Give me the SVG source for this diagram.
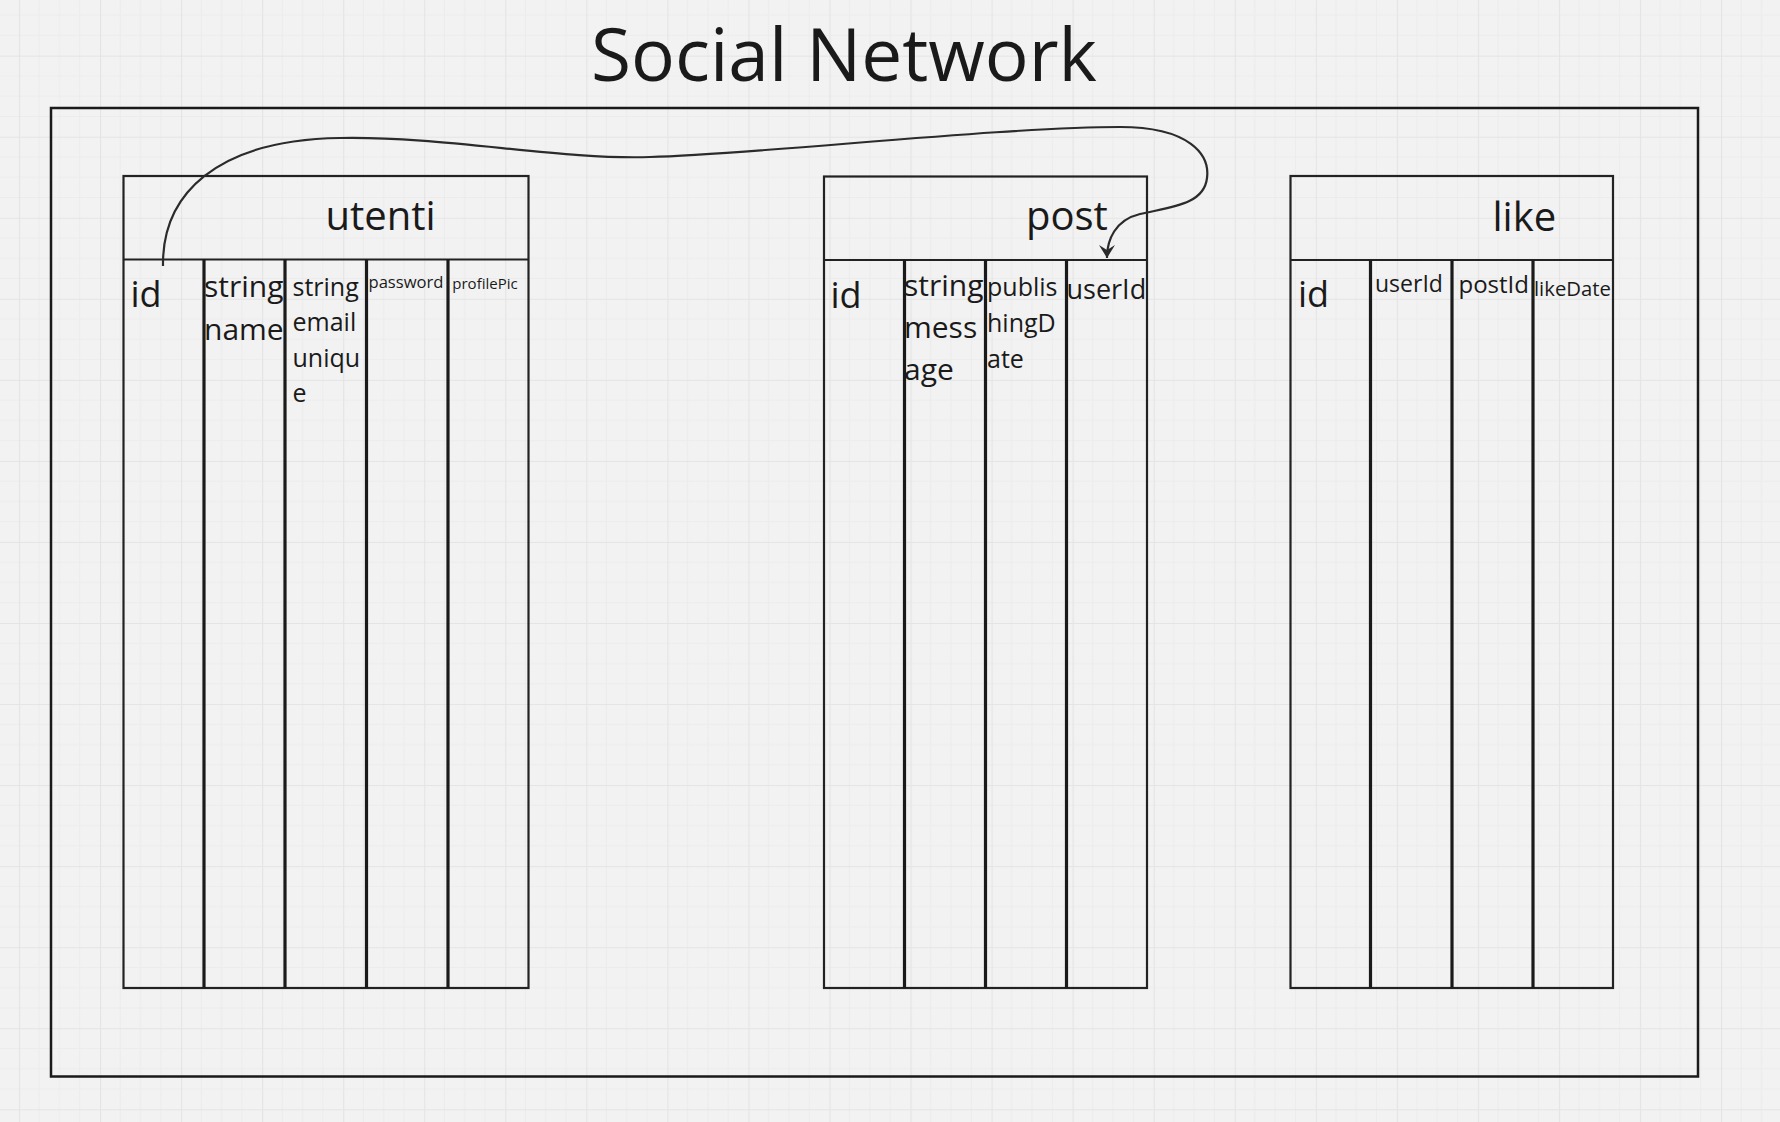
<svg xmlns="http://www.w3.org/2000/svg" width="1780" height="1122" viewBox="0 0 1780 1122">
  <defs>
    <pattern id="grid" patternUnits="userSpaceOnUse" x="18.95" y="55.65" width="81.05" height="81.05">
      <rect width="81.05" height="81.05" fill="#f2f2f2"/>
      <path d="M20.26 0V81.05M40.52 0V81.05M60.79 0V81.05M0 20.26H81.05M0 40.52H81.05M0 60.79H81.05" stroke="#ececec" stroke-width="1" fill="none"/>
      <path d="M0.5 0V81.05M0 0.5H81.05" stroke="#e4e4e4" stroke-width="1.2" fill="none"/>
    </pattern>
    <marker id="arrow" viewBox="-14 -9 15 18" refX="0" refY="0" markerWidth="15" markerHeight="18" markerUnits="userSpaceOnUse" orient="auto">
      <path d="M0,0 L-13,-8 L-8,0 L-13,8 Z" fill="#2b2b2b"/>
    </marker>
    <style>
      text { font-family: "Open Sans", "Noto Sans", "Liberation Sans", sans-serif; fill: #1a1a1a; }
      .frame { fill: none; stroke: #1a1a1a; stroke-width: 2.5; }
      .tbl { fill: none; stroke: #222; stroke-width: 2.2; }
      .col { stroke: #1a1a1a; stroke-width: 3.2; }
      .hdr { font-size: 40px; }
      .big { font-size: 36px; }
      .c30 { font-size: 30px; }
      .c25 { font-size: 25px; }
      .conn { fill: none; stroke: #2b2b2b; stroke-width: 2.2; }
    </style>
  </defs>

  <rect width="1780" height="1122" fill="url(#grid)"/>

  <text x="591" y="81" font-size="73">Social Network</text>

  <rect id="frame" class="frame" x="51" y="108" width="1647" height="968.5"/>

  <g id="utenti">
    <rect class="tbl" x="123.5" y="176" width="405" height="812"/>
    <line class="tbl" x1="123.5" y1="259.5" x2="528.5" y2="259.5"/>
    <line class="col" x1="204" y1="259.5" x2="204" y2="988"/>
    <line class="col" x1="285" y1="259.5" x2="285" y2="988"/>
    <line class="col" x1="366.5" y1="259.5" x2="366.5" y2="988"/>
    <line class="col" x1="448" y1="259.5" x2="448" y2="988"/>
    <text class="hdr" x="325.5" y="230">utenti</text>
    <text class="big" x="130.5" y="307">id</text>
    <text class="c30" x="204" y="297">string<tspan x="204" dy="43">name</tspan></text>
    <text class="c25" x="292.5" y="296">string<tspan x="292.5" dy="35.4">email</tspan><tspan x="292.5" dy="35.4">uniqu</tspan><tspan x="292.5" dy="35.4">e</tspan></text>
    <text x="368.5" y="287.5" font-size="16.6">password</text>
    <text x="452.3" y="288.5" font-size="15">profilePic</text>
  </g>

  <g id="post">
    <rect class="tbl" x="824" y="176.5" width="323" height="811.5"/>
    <line class="tbl" x1="824" y1="260" x2="1147" y2="260"/>
    <line class="col" x1="904.5" y1="260" x2="904.5" y2="988"/>
    <line class="col" x1="985.5" y1="260" x2="985.5" y2="988"/>
    <line class="col" x1="1066.5" y1="260" x2="1066.5" y2="988"/>
    <text class="hdr" x="1026" y="230">post</text>
    <text class="big" x="830.5" y="308">id</text>
    <text class="c30" x="904" y="296">string<tspan x="904" dy="42">mess</tspan><tspan x="904" dy="42">age</tspan></text>
    <text class="c25" x="987" y="296">publis<tspan x="987" dy="36.2">hingD</tspan><tspan x="987" dy="36.2">ate</tspan></text>
    <text x="1066.5" y="299" font-size="27">userId</text>
  </g>

  <g id="like">
    <rect class="tbl" x="1290.5" y="176" width="322.5" height="812"/>
    <line class="tbl" x1="1290.5" y1="260" x2="1613" y2="260"/>
    <line class="col" x1="1370.5" y1="260" x2="1370.5" y2="988"/>
    <line class="col" x1="1452" y1="260" x2="1452" y2="988"/>
    <line class="col" x1="1533" y1="260" x2="1533" y2="988"/>
    <text class="hdr" x="1492.5" y="231">like</text>
    <text class="big" x="1298" y="307">id</text>
    <text x="1375" y="291.7" font-size="23">userId</text>
    <text x="1458.5" y="293.3" font-size="24">postId</text>
    <text x="1534" y="295.7" font-size="20.3">likeDate</text>
  </g>

  <g id="connectors">
    <path class="conn" marker-end="url(#arrow)" d="M163 266 C162 195 215 140 340 138 C445 136 560 160 650 157 C760 154 1000 127 1120 127 C1190 127 1210 155 1207 178 C1204 205 1170 207 1140 214 C1115 220 1107 240 1107 258"/>
  </g>
</svg>
